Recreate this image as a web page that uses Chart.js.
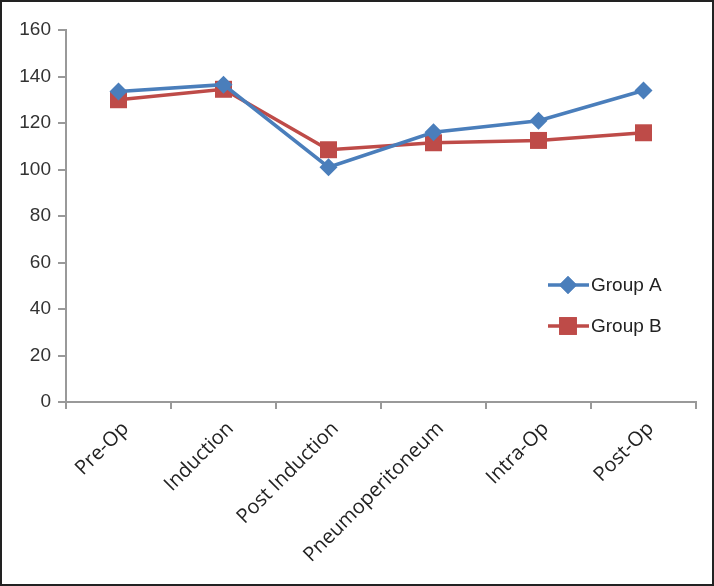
<!DOCTYPE html>
<html><head><meta charset="utf-8">
<script src="https://cdn.jsdelivr.net/npm/chart.js@4/dist/chart.umd.min.js"></script>
<style>
html,body{margin:0;padding:0;background:#fff;}
#wrap{width:714px;height:586px;box-sizing:border-box;border:2px solid #222;position:relative;}
canvas{display:block;}
</style></head>
<body>
<div id="wrap"><canvas id="c" width="710" height="582"></canvas></div>
<script>
const categories = ["Pre-Op","Induction","Post Induction","Pneumoperitoneum","Intra-Op","Post-Op"];
const groupA = [133.5, 136.5, 101, 116, 121, 134];
const groupB = [130, 134.5, 108.5, 111.5, 112.5, 115.8];
const seriesNames = ["Group A","Group B"];
const yTicks = [0,20,40,60,80,100,120,140,160];

const blue = '#4a7ebb', red = '#be4b48';

const insideLegend = {
  id:'insideLegend',
  afterDraw(chart){
    const ctx = chart.ctx;
    const items = [
      {name:seriesNames[0], color:blue, style:'rectRot', r:9, y:283},
      {name:seriesNames[1], color:red, style:'rect', r:12.5, y:324}
    ];
    items.forEach(it=>{
      ctx.save();
      ctx.strokeStyle = it.color; ctx.lineWidth = 3.5;
      ctx.beginPath(); ctx.moveTo(546,it.y); ctx.lineTo(587,it.y); ctx.stroke();
      ctx.fillStyle = it.color;
      Chart.helpers.drawPoint(ctx,{pointStyle:it.style,radius:it.r,borderWidth:0},566,it.y);
      ctx.fill();
      ctx.fillStyle = '#222';
      ctx.font = '19px "Liberation Sans", Arial, sans-serif';
      ctx.textBaseline = 'middle';
      ctx.fillText(it.name, 589, it.y+1);
      ctx.restore();
    });
  }
};

new Chart(document.getElementById('c'), {
  type:'line',
  data:{
    labels:categories,
    datasets:[
      {label:seriesNames[0], data:groupA, borderColor:blue, backgroundColor:blue, borderWidth:3.5,
       pointStyle:'rectRot', pointRadius:9, pointBorderWidth:0, tension:0},
      {label:seriesNames[1], data:groupB, borderColor:red, backgroundColor:red, borderWidth:3.5,
       pointStyle:'rect', pointRadius:12, pointBorderWidth:0, tension:0}
    ]
  },
  options:{
    responsive:false, animation:false,
    layout:{padding:{left:0,right:16,top:28,bottom:0}},
    plugins:{legend:{display:false}, tooltip:{enabled:false}},
    scales:{
      x:{
        offset:true,
        grid:{display:true, drawOnChartArea:false, drawTicks:true, tickLength:7, offset:true, color:'#999', lineWidth:2},
        border:{display:true, color:'#999', width:2},
        ticks:{minRotation:45, maxRotation:45, color:'#222', font:{family:'"Open Sans", sans-serif', size:20}, padding:8, labelOffset:7},
        afterFit(s){ s.height = 182; }
      },
      y:{
        min:0, max:160,
        afterBuildTicks(s){ s.ticks = yTicks.map(v=>({value:v})); },
        grid:{display:true, drawOnChartArea:false, drawTicks:true, tickLength:8, color:'#999', lineWidth:2},
        border:{display:true, color:'#999', width:2},
        ticks:{color:'#333', font:{family:'"Liberation Sans", Arial, sans-serif', size:19}, padding:7},
        afterFit(s){ s.width = 64; }
      }
    }
  },
  plugins:[insideLegend]
});
</script>
</body></html>
